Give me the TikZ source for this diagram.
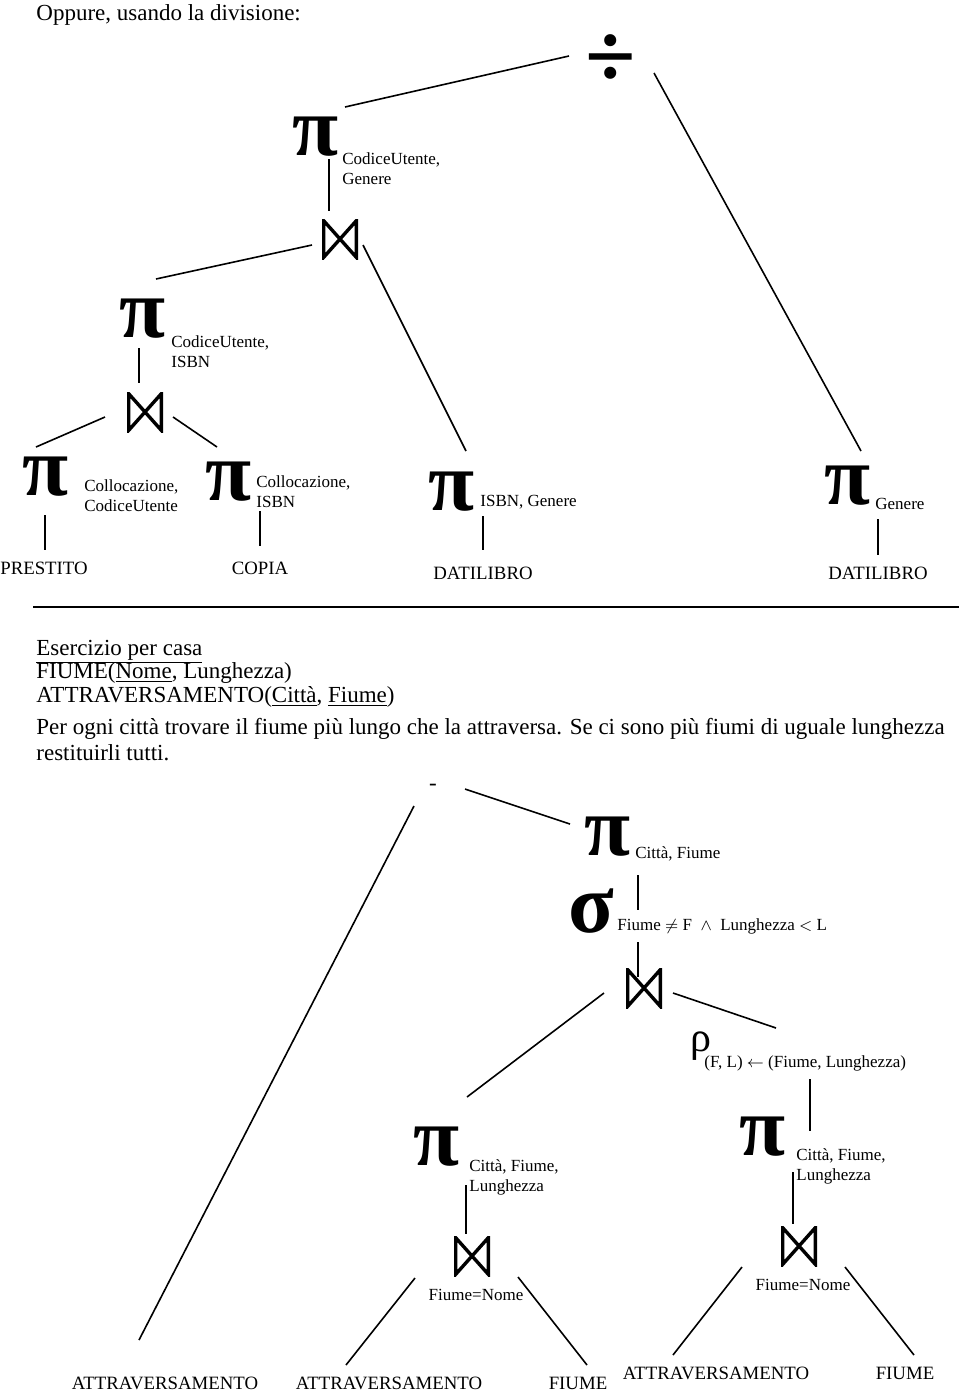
\documentclass[tikz,border=0pt]{standalone}
\usepackage{fontspec}
\setmainfont{Liberation Serif}

\begin{document}
\begin{tikzpicture}[x=0.5pt, y=-0.5pt]
\tikzstyle{textLine} =
[
	anchor			= base west,		% text sits on its baseline
	inner sep		= 0pt,
	font			= \fontsize{11.5}{14}\selectfont
]
\tikzstyle{opNode} =
[
	inner sep		= 0pt,
	minimum width	= 21pt,				% | box of the operator glyph
	minimum height	= 20pt,				% |
	font			= \fontsize{42}{42}\selectfont\bfseries
]
\tikzstyle{attrNode} =
[
	anchor			= west,
	align			= left,
	inner sep		= 0pt,
	font			= \fontsize{8.5}{10}\selectfont
]
\tikzstyle{relNode} =
[
	inner sep		= 0pt,
	font			= \fontsize{9.4}{11}\selectfont
]
\tikzstyle{joinNode} =
[
	shape			= rectangle,
	minimum width	= 18pt,
	minimum height	= 20pt,
	inner sep		= 0pt,
	path picture	= {
		\draw [line width = 1.7pt]
			([shift={(0.85pt,-0.85pt)}]path picture bounding box.north west) --
			([shift={(-0.85pt,0.85pt)}]path picture bounding box.south east) --
			([shift={(-0.85pt,-0.85pt)}]path picture bounding box.north east) --
			([shift={(0.85pt,0.85pt)}]path picture bounding box.south west) -- cycle;
	}
]
\tikzstyle{link} = [line width = 0.8pt]
\useasboundingbox (0,0) rectangle (960,1393);

% first solution, with the division
\node (title) [textLine] at (36,20) {Oppure, usando la divisione:};
\node (div) [inner sep = 0pt, font = \fontsize{46}{46}\selectfont\bfseries] at (611,61) {÷};
\node (projA) [opNode] at (316,137) {π};
\node (labA) [attrNode] at (342,169) {CodiceUtente,\\Genere};
\node (joinA) [joinNode] at (340,239) {};
\node (projB) [opNode] at (143,319) {π};
\node (labB) [attrNode] at (171,352) {CodiceUtente,\\ISBN};
\node (joinB) [joinNode] at (145,412) {};
\node (projC) [opNode] at (46,477) {π};
\node (labC) [attrNode] at (84,496) {Collocazione,\\CodiceUtente};
\node (projD) [opNode] at (229,482) {π};
\node (labD) [attrNode] at (256,492) {Collocazione,\\ISBN};
\node (projE) [opNode] at (452,492) {π};
\node (labE) [attrNode] at (480,502) {ISBN, Genere};
\node (projF) [opNode] at (848,486) {π};
\node (labF) [attrNode] at (875,504) {Genere};
\node (prestito) [relNode] at (44,568) {PRESTITO};
\node (copia) [relNode] at (260,568) {COPIA};
\node (datilibroA) [relNode] at (483,573) {DATILIBRO};
\node (datilibroB) [relNode] at (878,573) {DATILIBRO};
\draw [link] ([shift={(29,-30)}]projA.center) -- ([shift={(-42,-5)}]div.center);
\draw [link] ([shift={(43,12)}]div.center) -- ([shift={(13,-35)}]projF.center);
\draw [link] ([shift={(13,22)}]projA.center) -- ([shift={(-11,-28)}]joinA.center);
\draw [link] ([shift={(-28,6)}]joinA.center) -- ([shift={(13,-40)}]projB.center);
\draw [link] ([shift={(23,6)}]joinA.center) -- ([shift={(14,-41)}]projE.center);
\draw [link] ([shift={(-4,29)}]projB.center) -- ([shift={(-6,-29)}]joinB.center);
\draw [link] ([shift={(-40,5)}]joinB.center) -- ([shift={(-10,-30)}]projC.center);
\draw [link] ([shift={(28,5)}]joinB.center) -- ([shift={(-12,-35)}]projD.center);
\draw [link] ([shift={(-1,38)}]projC.center) -- ([shift={(1,-18)}]prestito.center);
\draw [link] ([shift={(31,29)}]projD.center) -- ([shift={(0,-22)}]copia.center);
\draw [link] ([shift={(31,24)}]projE.center) -- ([shift={(0,-23)}]datilibroA.center);
\draw [link] ([shift={(30,33)}]projF.center) -- ([shift={(0,-18)}]datilibroB.center);

% separator
\coordinate (ruleL) at (33,607);
\coordinate (ruleR) at (959,607);
\draw [line width = 1.2pt] (ruleL) -- (ruleR);

% exercise
\node (exTitle) [textLine] at (36,655) {\underline{Esercizio per casa}};
\node (exFiume) [textLine] at (36,678) {FIUME(\underline{Nome}, Lunghezza)};
\node (exAttr) [textLine] at (36,702) {ATTRAVERSAMENTO(\underline{Città}, \underline{Fiume})};
\node (exText) [textLine] at (36,734) {Per ogni città trovare il fiume più lungo che la attraversa. Se ci sono più fiumi di uguale lunghezza};
\node (exTextB) [textLine] at (36,760) {restituirli tutti.};

% second tree, with the difference
\node (minus) [inner sep = 0pt, minimum size = 8pt, font = \fontsize{11.5}{14}\selectfont] at (433,787) {-};
\node (projG) [opNode] at (608,837) {π};
\node (labG) [attrNode] at (635,854) {Città, Fiume};
\node (sel) [opNode, minimum width = 20pt, minimum height = 18pt] at (591,911) {σ};
\node (labSel) [attrNode] at (617,926) {Fiume $\neq$ F \ $\wedge$\ \ Lunghezza $<$ L};
\node (joinC) [joinNode] at (644,988) {};
\node (ren) [inner sep = 0pt, font = \fontsize{21}{21}\selectfont] at (701,1046) {ρ};
\node (labRen) [attrNode] at (704,1063) {(F, L) $\leftarrow$ (Fiume, Lunghezza)};
\node (projH) [opNode] at (437,1147) {π};
\node (labH) [attrNode] at (469,1177) {Città, Fiume,\\Lunghezza};
\node (projI) [opNode] at (763,1137) {π};
\node (labI) [attrNode] at (796,1166) {Città, Fiume,\\Lunghezza};
\node (joinD) [joinNode] at (472,1256) {};
\node (condD) [relNode, font = \fontsize{8.5}{10}\selectfont] at (476,1295) {Fiume=Nome};
\node (joinE) [joinNode] at (799,1246) {};
\node (condE) [relNode, font = \fontsize{8.5}{10}\selectfont] at (803,1285) {Fiume=Nome};
\node (attrA) [relNode] at (165,1383) {ATTRAVERSAMENTO};
\node (attrB) [relNode] at (389,1383) {ATTRAVERSAMENTO};
\node (fiumeA) [relNode] at (578,1383) {FIUME};
\node (attrC) [relNode] at (716,1373) {ATTRAVERSAMENTO};
\node (fiumeB) [relNode] at (905,1373) {FIUME};
\draw [link] ([shift={(32,2)}]minus.center) -- ([shift={(-38,-13)}]projG.center);
\draw [link] ([shift={(-19,19)}]minus.center) -- ([shift={(-26,-43)}]attrA.center);
\draw [link] ([shift={(30,38)}]projG.center) -- ([shift={(47,-1)}]sel.center);
\draw [link] ([shift={(47,31)}]sel.center) -- ([shift={(-6,-11)}]joinC.center);
\draw [link] ([shift={(-40,5)}]joinC.center) -- ([shift={(30,-50)}]projH.center);
\draw [link] ([shift={(29,5)}]joinC.center) -- ([shift={(75,-18)}]ren.center);
\draw [link] ([shift={(109,33)}]ren.center) -- ([shift={(47,-6)}]projI.center);
\draw [link] ([shift={(29,38)}]projH.center) -- ([shift={(-6,-22)}]joinD.center);
\draw [link] ([shift={(-57,22)}]joinD.center) -- ([shift={(-43,-18)}]attrB.center);
\draw [link] ([shift={(46,21)}]joinD.center) -- ([shift={(9,-18)}]fiumeA.center);
\draw [link] ([shift={(30,35)}]projI.center) -- ([shift={(-6,-22)}]joinE.center);
\draw [link] ([shift={(-57,21)}]joinE.center) -- ([shift={(-43,-18)}]attrC.center);
\draw [link] ([shift={(46,21)}]joinE.center) -- ([shift={(9,-18)}]fiumeB.center);
\end{tikzpicture}
\end{document}
